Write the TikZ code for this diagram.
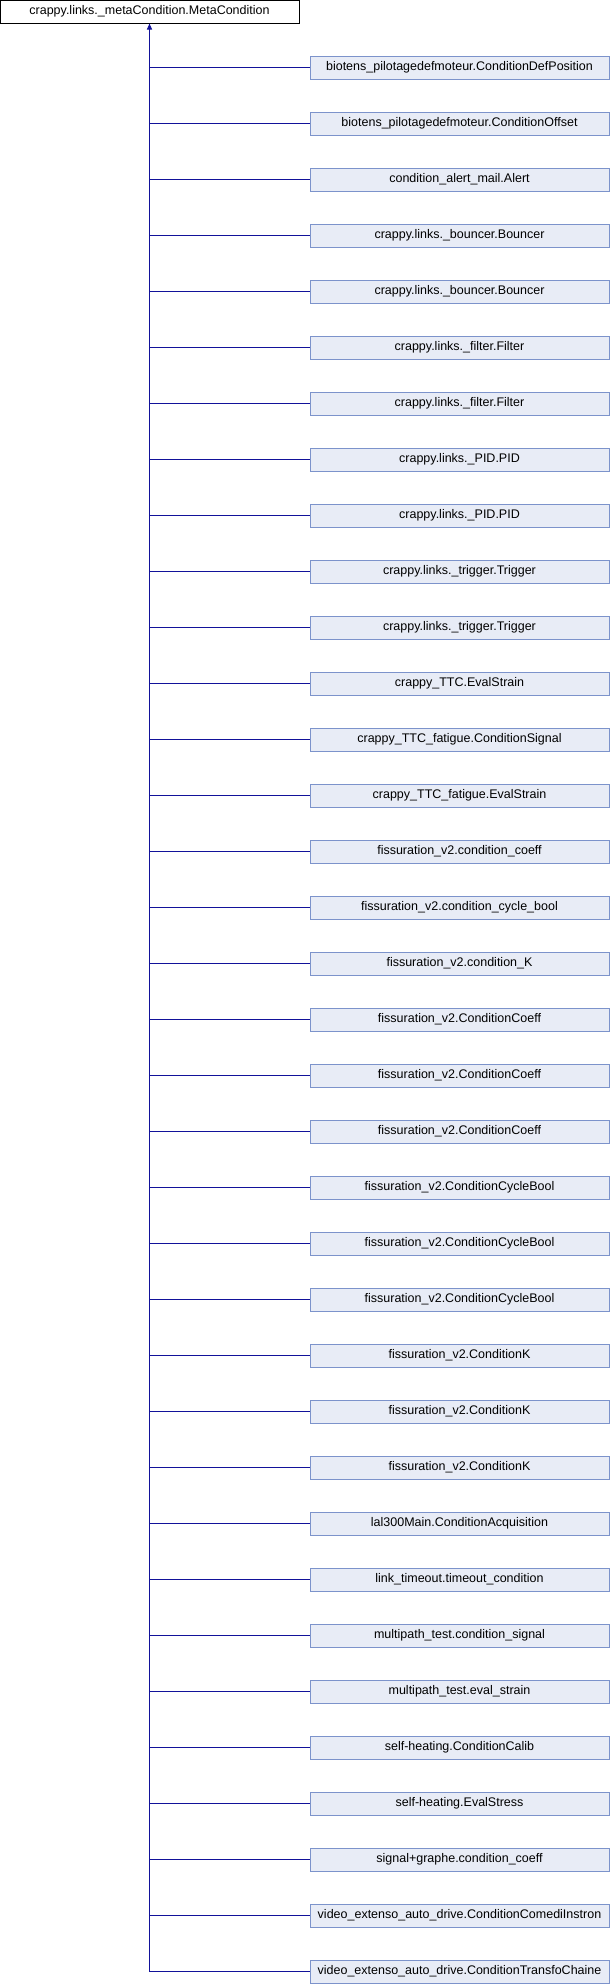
\documentclass[tikz,border=0pt]{standalone}
\usepackage{fontspec}
\setmainfont{Liberation Sans}
\usetikzlibrary{arrows.meta,positioning}
\definecolor{edgeblue}{HTML}{12129A}
\definecolor{boxline}{HTML}{7C93CB}
\definecolor{boxfill}{HTML}{E8ECF6}

\begin{document}
\begin{tikzpicture}[x=1pt,y=1pt,font=\fontsize{12.5}{14}\selectfont,
   cls/.style={draw,line width=1pt,minimum width=299pt,minimum height=23pt,
               inner sep=0pt,anchor=center},
   base/.style={cls,draw=black,fill=white},
   derived/.style={cls,draw=boxline,fill=boxfill},
   inh/.style={line width=1pt,edgeblue}]
  \useasboundingbox (0,0) rectangle (610,-1984);
  \node[base] (root) at (149.5,-11.5) {crappy.links.\_metaCondition.MetaCondition};
  % derived classes
  \foreach \txt [count=\i] in {
      biotens\_pilotagedefmoteur.ConditionDefPosition,
      biotens\_pilotagedefmoteur.ConditionOffset,
      condition\_alert\_mail.Alert,
      crappy.links.\_bouncer.Bouncer,
      crappy.links.\_bouncer.Bouncer,
      crappy.links.\_filter.Filter,
      crappy.links.\_filter.Filter,
      crappy.links.\_PID.PID,
      crappy.links.\_PID.PID,
      crappy.links.\_trigger.Trigger,
      crappy.links.\_trigger.Trigger,
      crappy\_TTC.EvalStrain,
      crappy\_TTC\_fatigue.ConditionSignal,
      crappy\_TTC\_fatigue.EvalStrain,
      fissuration\_v2.condition\_coeff,
      fissuration\_v2.condition\_cycle\_bool,
      fissuration\_v2.condition\_K,
      fissuration\_v2.ConditionCoeff,
      fissuration\_v2.ConditionCoeff,
      fissuration\_v2.ConditionCoeff,
      fissuration\_v2.ConditionCycleBool,
      fissuration\_v2.ConditionCycleBool,
      fissuration\_v2.ConditionCycleBool,
      fissuration\_v2.ConditionK,
      fissuration\_v2.ConditionK,
      fissuration\_v2.ConditionK,
      lal300Main.ConditionAcquisition,
      link\_timeout.timeout\_condition,
      multipath\_test.condition\_signal,
      multipath\_test.eval\_strain,
      self-heating.ConditionCalib,
      self-heating.EvalStress,
      signal+graphe.condition\_coeff,
      video\_extenso\_auto\_drive.ConditionComediInstron,
      video\_extenso\_auto\_drive.ConditionTransfoChaine}
  {
    \node[derived] (c\i) at (459.5,{-67.5-56*(\i-1)}) {\txt};
    \draw[inh] (c\i.west) -- (c\i.west -| root.south);
  }
  \coordinate (trunk) at (c35.west -| root.south);
  \draw[inh,-{Triangle[length=6pt,width=5pt]}] (trunk) -- (root.south);
\end{tikzpicture}
\end{document}
